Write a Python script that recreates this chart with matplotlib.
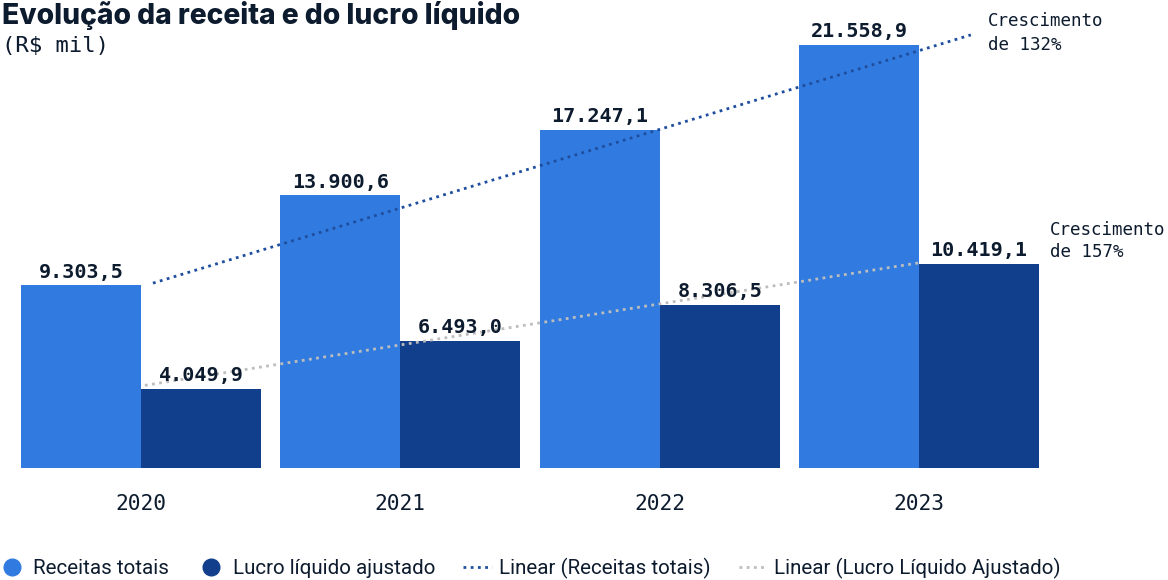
import numpy as np
from matplotlib import pyplot as plt
from matplotlib.lines import Line2D

# Values in R$ mil
anos = ['2020', '2021', '2022', '2023']
receitas = [9303.5, 13900.6, 17247.1, 21558.9]
lucro = [4049.9, 6493.0, 8306.5, 10419.1]
rotulos_receitas = ['9.303,5', '13.900,6', '17.247,1', '21.558,9']
rotulos_lucro = ['4.049,9', '6.493,0', '8.306,5', '10.419,1']

cor_receita = '#317BE0'
cor_lucro = '#113F8C'
cor_texto = '#0D1B2E'
cor_tend_rec = '#1F4E9E'
cor_tend_luc = '#BDBDBD'
mono = 'DejaVu Sans Mono'

fig = plt.figure(figsize=(11.68, 5.8), dpi=100)
ax = fig.add_axes([0, 112 / 580, 1, 468 / 580])

x = np.arange(len(anos))
w = 0.463
ax.bar(x - w / 2, receitas, w, color=cor_receita)
ax.bar(x + w / 2, lucro, w, color=cor_lucro)

for xi, v, t in zip(x - w / 2, receitas, rotulos_receitas):
    ax.text(xi, v + 180, t, ha='center', va='bottom', family=mono,
            fontweight='bold', fontsize=14.5, color=cor_texto)
for xi, v, t in zip(x + w / 2, lucro, rotulos_lucro):
    ax.text(xi, v + 180, t, ha='center', va='bottom', family=mono,
            fontweight='bold', fontsize=14.5, color=cor_texto)

# Linear trendlines (least squares over the four years)
a, b = np.polyfit(x, receitas, 1)
xr = np.array([0.046, 3.2])
ax.plot(xr, a * xr + b - 250, color=cor_tend_rec, linestyle=(0, (1, 1.6)), lw=2)
a2, b2 = np.polyfit(x, lucro, 1)
xl = np.array([0.015, 3.0])
ax.plot(xl, a2 * xl + b2, color=cor_tend_luc, linestyle=(0, (1, 1.6)), lw=2)

ax.text(3.266, 22170, 'Crescimento\nde 132%', ha='left', va='center',
        family=mono, fontsize=12.6, color=cor_texto, linespacing=1.4)
ax.text(3.505, 11570, 'Crescimento\nde 157%', ha='left', va='center',
        family=mono, fontsize=12.6, color=cor_texto, linespacing=1.3)

ax.set_xlim(-0.5437, 3.96)
ax.set_ylim(0, 23850)
ax.set_xticks(x)
ax.set_xticklabels(anos, family=mono, fontsize=15.3, color=cor_texto)
ax.tick_params(axis='x', length=0, pad=19)
ax.set_yticks([])
for s in ax.spines.values():
    s.set_visible(False)

fig.text(0.002, 0.998, 'Evolução da receita e do lucro líquido', ha='left',
         va='top', family='Inter', fontweight='heavy', fontsize=20.3,
         color=cor_texto)
fig.text(0.002, 0.92, '(R$ mil)', ha='left', va='center', family=mono,
         fontsize=16, color=cor_texto)

handles = [
    Line2D([], [], marker='o', ls='none', color=cor_receita, markersize=12),
    Line2D([], [], marker='o', ls='none', color=cor_lucro, markersize=12),
    Line2D([], [], color=cor_tend_rec, linestyle=(0, (1, 1.6)), lw=2),
    Line2D([], [], color=cor_tend_luc, linestyle=(0, (1, 1.6)), lw=2),
]
nomes = ['Receitas totais', 'Lucro líquido ajustado',
         'Linear (Receitas totais)', 'Linear (Lucro Líquido Ajustado)']
fig.legend(handles, nomes, loc='center left', bbox_to_anchor=(-0.018, 0.02),
           ncol=4, frameon=False, handlelength=1.4, handletextpad=0.35,
           columnspacing=1.35, prop={'family': 'Roboto', 'size': 14.8},
           labelcolor=cor_texto)

fig.savefig('out.png', dpi=100)
